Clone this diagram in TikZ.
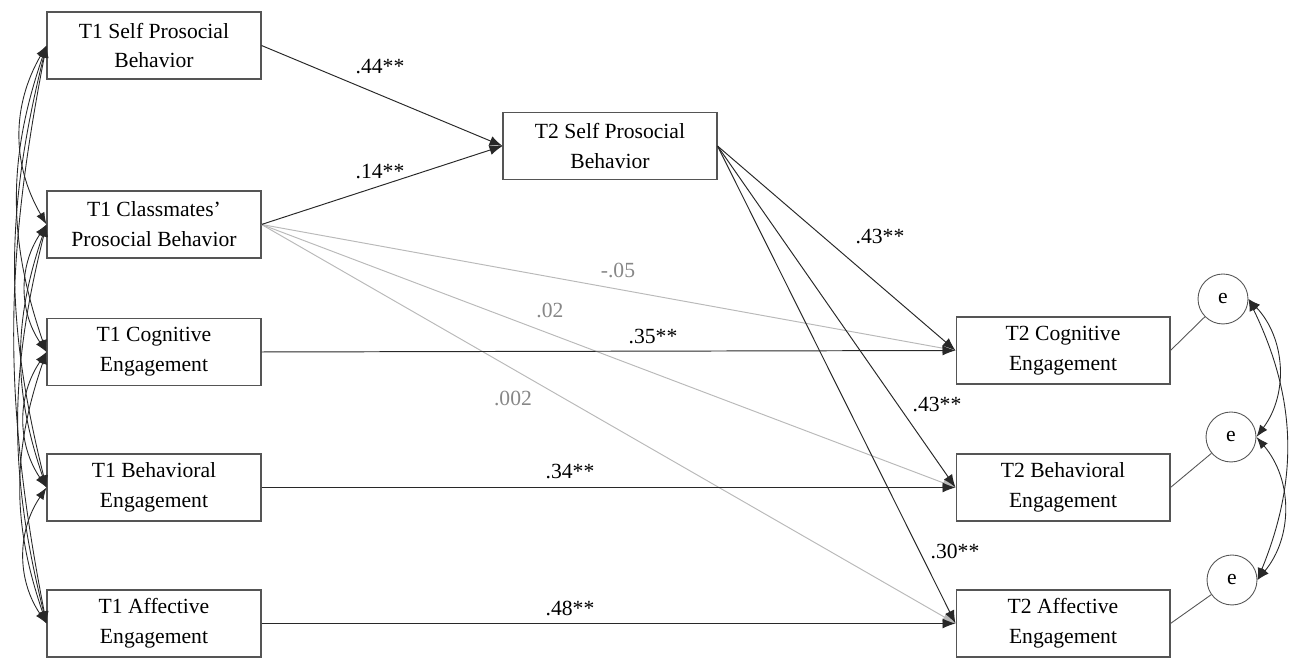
\documentclass[tikz,border=0pt]{standalone}
\usepackage{fontspec}
\setmainfont{Liberation Serif}
\usetikzlibrary{arrows.meta}

\definecolor{boxline}{RGB}{85,85,85}
\definecolor{pathline}{RGB}{40,40,40}
\definecolor{nsline}{RGB}{185,185,185}
\definecolor{nslabel}{RGB}{135,135,135}

\tikzset{
   var/.style={draw=boxline, line width=0.6pt, minimum width=4.28cm, minimum height=1.34cm,
      inner sep=0pt, align=center, font=\fontsize{12.3}{17}\selectfont},
   err/.style={draw=boxline, line width=0.5pt, circle, minimum size=1cm, inner sep=0pt,
      font=\fontsize{12.3}{17}\selectfont},
   tip/.style={-{Latex[length=2.6mm, width=2mm]}},
   sig/.style={draw=pathline, line width=0.55pt, tip},
   nonsig/.style={draw=nsline, line width=0.55pt, tip},
   cov/.style={draw=pathline, line width=0.5pt,
      {Latex[length=2.4mm, width=1.8mm]}-{Latex[length=2.4mm, width=1.8mm]}},
   coef/.style={inner sep=0pt, font=\fontsize{12.3}{17}\selectfont},
   nscoef/.style={coef, text=nslabel}
}

\begin{document}
\begin{tikzpicture}[x=0.02cm, y=0.02cm]
   \useasboundingbox (0,0) rectangle (1289,658);
   \def\xa{154};   % T1 column
   \def\xc{1063};  % T2 column
   % T1 variables
   \node[var] (sp1)  at (\xa,612.5) {T1 Self Prosocial\\Behavior};
   \node[var] (cp1)  at (\xa,433.5) {T1 Classmates'\\Prosocial Behavior};
   \node[var] (cog1) at (\xa,306)   {T1 Cognitive\\Engagement};
   \node[var] (beh1) at (\xa,170.5) {T1 Behavioral\\Engagement};
   \node[var] (aff1) at (\xa,34.5)  {T1 Affective\\Engagement};
   % T2 variables
   \node[var] (sp2)  at (610,512)   {T2 Self Prosocial\\Behavior};
   \node[var] (cog2) at (\xc,307.5) {T2 Cognitive\\Engagement};
   \node[var] (beh2) at (\xc,170.5) {T2 Behavioral\\Engagement};
   \node[var] (aff2) at (\xc,34.5)  {T2 Affective\\Engagement};
   % residuals
   \node[err] (e1) at (1223,359) {e};
   \node[err] (e2) at (1231,221) {e};
   \node[err] (e3) at (1232,78)  {e};

   % non-significant paths
   \draw[nonsig] (cp1.east) -- (cog2.west);
   \draw[nonsig] (cp1.east) -- (beh2.west);
   \draw[nonsig] (cp1.east) -- (aff2.west);
   % significant paths
   \draw[sig] (sp1.east) -- (sp2.west);
   \draw[sig] (cp1.east) -- (sp2.west);
   \draw[sig] (cog1.east) -- (cog2.west);
   \draw[sig] (beh1.east) -- (beh2.west);
   \draw[sig] (aff1.east) -- (aff2.west);
   \draw[sig] (sp2.east) -- (cog2.west);
   \draw[sig] (sp2.east) -- (beh2.west);
   \draw[sig] (sp2.east) -- (aff2.west);
   % residual links
   \draw[draw=boxline, line width=0.5pt] (cog2.east) -- (e1);
   \draw[draw=boxline, line width=0.5pt] (beh2.east) -- (e2);
   \draw[draw=boxline, line width=0.5pt] (aff2.east) -- (e3);

   % covariances among T1
   \foreach \a/\b/\ang in {sp1/cp1/30, cp1/cog1/34, cog1/beh1/34, beh1/aff1/34,
         sp1/cog1/19, cp1/beh1/19, cog1/aff1/19,
         sp1/beh1/14, cp1/aff1/14, sp1/aff1/11}
      \draw[cov] (\a.west) to[bend right=\ang] (\b.west);
   % covariances among residuals
   \draw[cov] (e1.east) to[bend left=40] (e2.east);
   \draw[cov] (e2.east) to[bend left=40] (e3.east);
   \draw[cov] (e1.east) to[bend left=24] (e3.east);

   % coefficients
   \node[coef] (c1) at (380,591) {.44**};
   \node[coef] (c2) at (380,486) {.14**};
   \node[coef] (c3) at (880,421) {.43**};
   \node[nscoef] (c4) at (618,388) {-.05};
   \node[nscoef] (c5) at (550,348) {.02};
   \node[coef] (c6) at (653,321) {.35**};
   \node[nscoef] (c7) at (513,260) {.002};
   \node[coef] (c8) at (937,253) {.43**};
   \node[coef] (c9) at (570,186) {.34**};
   \node[coef] (c10) at (955,107) {.30**};
   \node[coef] (c11) at (570,50) {.48**};
\end{tikzpicture}
\end{document}
